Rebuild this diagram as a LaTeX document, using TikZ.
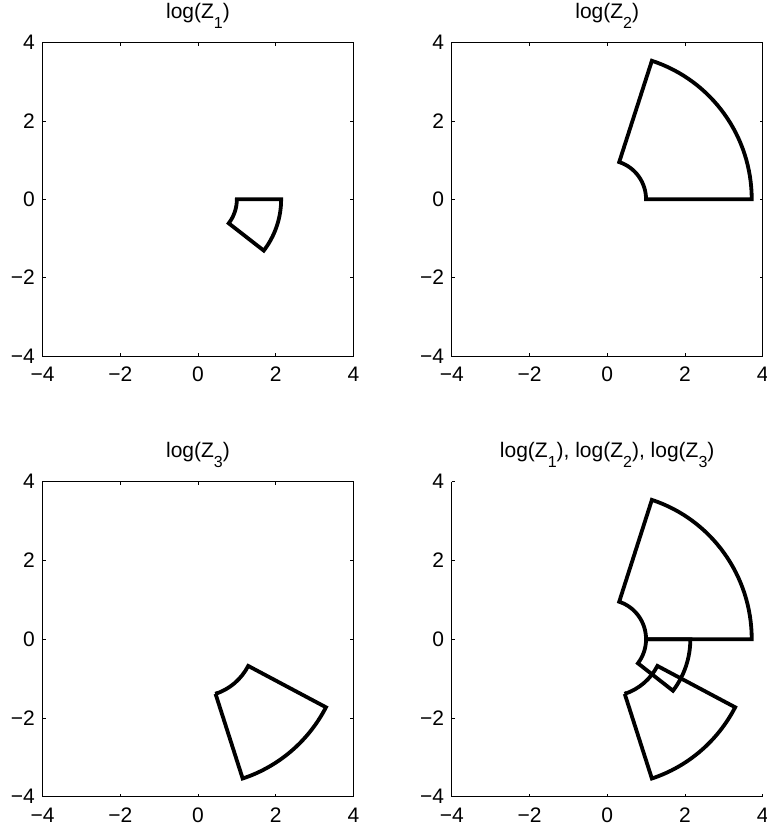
\documentclass[tikz,border=0pt]{standalone}
\usepackage{fontspec}
\setmainfont{Liberation Sans}
\tikzset{
  axisline/.style = {line width=0.8pt, black},
  sector/.style = {line width=3.8pt, line join=miter},
  ticklab/.style = {font=\fontsize{21}{25}\selectfont, inner sep=0},
  plottitle/.style = {font=\fontsize{21}{25}\selectfont, inner sep=0, anchor=base},
}
\newcommand{\subone}[1]{\raisebox{-10pt}{\fontsize{16}{18}\selectfont #1}}

\begin{document}
\begin{tikzpicture}[x=1pt, y=1pt]
  \useasboundingbox (0,0) rectangle (767,832);
  % boxed axes of the three single plots
  \foreach \cx/\cy/\ys/\p in {198/632.65/39.16/a, 607.2/632.65/39.16/b, 198/192.8/39.375/c} {
    \begin{scope}[shift={(\cx,\cy)}, x=38.85pt, y=\ys pt]
      \draw[axisline] (-4,-4) rectangle (4,4);
      \foreach \t/\l [count=\i] in {-4/−4, -2/−2, 0/0, 2/2, 4/4} {
        \draw[axisline] (\t,-4) -- ++(0,0.08) (\t,4) -- ++(0,-0.08)
                        (-4,\t) -- ++(0.08,0) (4,\t) -- ++(-0.08,0);
        \node[ticklab, anchor=north] (\p x\i) at ([yshift=-11pt]\t,-4) {\l};
        \node[ticklab, anchor=east] (\p y\i) at ([xshift=-7.5pt]-4,\t) {\l};
      }
    \end{scope}
  }
  % log(Z_1)
  \begin{scope}[shift={(198,632.65)}, x=38.85pt, y=39.16pt]
    \node[plottitle] (ta) at ([yshift=24pt]0,4) {log(Z\subone{1})};
    \draw[sector] (0:1) -- (0:2.14) arc[start angle=0, end angle=-37.7, radius=2.14]
      -- (-37.7:1) arc[start angle=-37.7, end angle=0, radius=1] -- cycle;
  \end{scope}
  % log(Z_2)
  \begin{scope}[shift={(607.2,632.65)}, x=38.85pt, y=39.16pt]
    \node[plottitle] (tb) at ([yshift=24pt]0,4) {log(Z\subone{2})};
    \draw[sector] (0:1) -- (0:3.72) arc[start angle=0, end angle=72, radius=3.72]
      -- (72:1) arc[start angle=72, end angle=0, radius=1] -- cycle;
  \end{scope}
  % log(Z_3)
  \begin{scope}[shift={(198,192.8)}, x=38.85pt, y=39.375pt]
    \node[plottitle] (tc) at ([yshift=24pt]0,4) {log(Z\subone{3})};
    \draw[sector] (-72:1.46) -- (-72:3.72) arc[start angle=-72, end angle=-27.7, radius=3.72]
      -- (-27.7:1.46) arc[start angle=-27.7, end angle=-72, radius=1.46] -- cycle;
  \end{scope}
  % all three together, open axes
  \begin{scope}[shift={(607.2,192.8)}, x=38.85pt, y=39.375pt]
    \draw[axisline] (-4,4) -- (-4,-4) -- (4,-4);
    \foreach \t/\l [count=\i] in {-4/−4, -2/−2, 0/0, 2/2, 4/4} {
      \draw[axisline] (\t,-4) -- ++(0,0.08) (-4,\t) -- ++(0.08,0);
      \node[ticklab, anchor=north] (dx\i) at ([yshift=-11pt]\t,-4) {\l};
      \node[ticklab, anchor=east] (dy\i) at ([xshift=-7.5pt]-4,\t) {\l};
    }
    \node[plottitle] (td) at ([yshift=24pt]0,4) {log(Z\subone{1}), log(Z\subone{2}), log(Z\subone{3})};
    \draw[sector] (0:1) -- (0:2.14) arc[start angle=0, end angle=-37.7, radius=2.14]
      -- (-37.7:1) arc[start angle=-37.7, end angle=0, radius=1] -- cycle;
    \draw[sector] (0:1) -- (0:3.72) arc[start angle=0, end angle=72, radius=3.72]
      -- (72:1) arc[start angle=72, end angle=0, radius=1] -- cycle;
    \draw[sector] (-72:1.46) -- (-72:3.72) arc[start angle=-72, end angle=-27.7, radius=3.72]
      -- (-27.7:1.46) arc[start angle=-27.7, end angle=-72, radius=1.46] -- cycle;
  \end{scope}
\end{tikzpicture}
\end{document}
